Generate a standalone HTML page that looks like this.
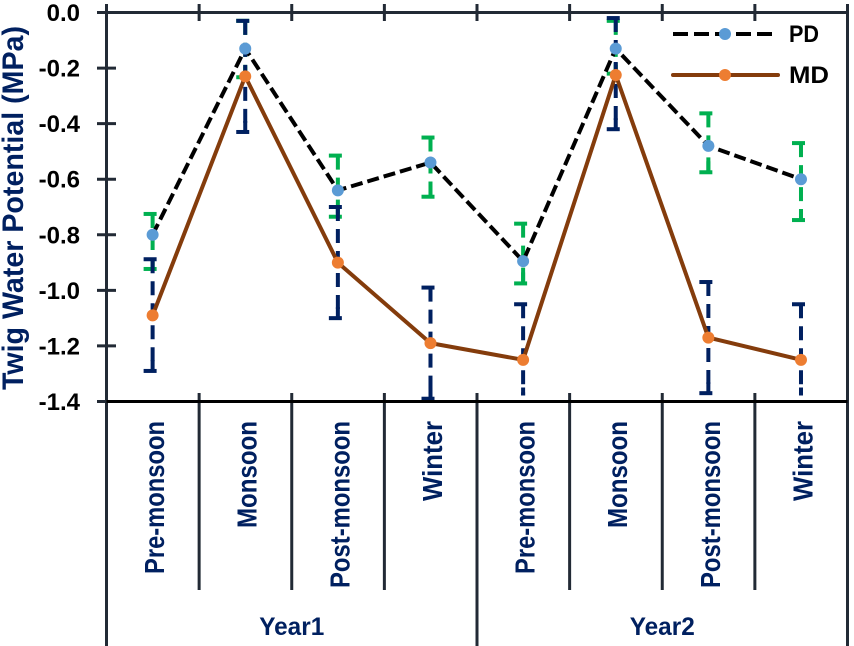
<!DOCTYPE html>
<html>
<head>
<meta charset="utf-8">
<title>Twig Water Potential</title>
<style>
html,body{margin:0;padding:0;background:#fff;}
svg{display:block;font-family:"Liberation Sans",sans-serif;}
</style>
</head>
<body>
<svg id="chart" width="854" height="646" viewBox="0 0 854 646" xmlns="http://www.w3.org/2000/svg">
  <g id="errors"></g>
  <g id="axes"></g>
  <g id="series"></g>
  <text transform="translate(23,390) rotate(-90)" font-size="30" font-weight="bold" fill="#002060" textLength="364" lengthAdjust="spacingAndGlyphs">Twig Water Potential (MPa)</text>
  <g>
    <line x1="673" y1="34" x2="773" y2="34" stroke="#000" stroke-width="4" stroke-dasharray="15 6"/>
    <circle cx="725" cy="34" r="6" fill="#5B9BD5"/>
    <text x="789" y="42" font-size="24" font-weight="bold" fill="#000" textLength="30" lengthAdjust="spacingAndGlyphs">PD</text>
    <line x1="673" y1="75" x2="778" y2="75" stroke="#843C0C" stroke-width="4" stroke-linecap="round"/>
    <circle cx="725" cy="75" r="6" fill="#ED7D31"/>
    <text x="789" y="83" font-size="24" font-weight="bold" fill="#000" textLength="40" lengthAdjust="spacingAndGlyphs">MD</text>
  </g>
</svg>
<script>
var seasons = ["Pre-monsoon","Monsoon","Post-monsoon","Winter","Pre-monsoon","Monsoon","Post-monsoon","Winter"];
var years = ["Year1","Year2"];
var yTicks = [0,-0.2,-0.4,-0.6,-0.8,-1.0,-1.2,-1.4];
var pdValues = [-0.80,-0.13,-0.64,-0.54,-0.895,-0.13,-0.48,-0.60];
var mdValues = [-1.09,-0.23,-0.90,-1.19,-1.25,-0.225,-1.17,-1.25];
var pdErrTop = [-0.725,-0.03,-0.515,-0.45,-0.76,-0.03,-0.363,-0.47];
var pdErrBottom = [-0.923,-0.233,-0.735,-0.663,-0.975,-0.22,-0.575,-0.747];
var mdErrTop = [-0.888,-0.03,-0.70,-0.99,-1.05,-0.02,-0.97,-1.05];
var mdErrBottom = [-1.29,-0.43,-1.10,-1.39,-1.45,-0.42,-1.37,-1.45];

var NS = "http://www.w3.org/2000/svg";
var LEFT = 106.5, RIGHT = 847.5, TOP = 12.5, BOTTOM = 401.5;
var AXIS = "#222A35", NAVY = "#002060", GREEN = "#00B050";
function xBand(i){ return LEFT + (RIGHT - LEFT) * i / seasons.length; }
function xPos(i){ return xBand(i + 0.5) - 0.2; }
function yPos(v){ return TOP + (BOTTOM - TOP) * (0 - v) / 1.4; }
function make(parent, tag, attrs){
  var el = document.createElementNS(NS, tag);
  for (var k in attrs) el.setAttribute(k, attrs[k]);
  parent.appendChild(el);
  return el;
}
var axes = document.getElementById("axes");
var errors = document.getElementById("errors");
var series = document.getElementById("series");
var el;

function drawErrors(tops, bottoms, color, label){
  tops.forEach(function(t, i){
    var x = xPos(i), y1 = yPos(t), y2 = yPos(bottoms[i]);
    var offScale = bottoms[i] < -1.4;
    var stemEnd = offScale ? BOTTOM - 6 : y2;
    el = make(errors, "line", {x1:x, y1:y1, x2:x, y2:stemEnd, stroke:color, "stroke-width":4, "stroke-dasharray":"14 8"});
    
    
    el = make(errors, "line", {x1:x-9, y1:y1, x2:x+4, y2:y1, stroke:color, "stroke-width":4});
    
    
    el = make(errors, "line", {x1:x, y1:stemEnd-(offScale ? 8 : 11), x2:x, y2:stemEnd, stroke:color, "stroke-width":4});
    
    
    if (!offScale) {
      el = make(errors, "line", {x1:x-9, y1:y2, x2:x+4, y2:y2, stroke:color, "stroke-width":4});
      
      
    }
  });
}
drawErrors(pdErrTop, pdErrBottom, GREEN, 'pd');
drawErrors(mdErrTop, mdErrBottom, NAVY, 'md');

// frame
el = make(axes, "line", {x1:97, y1:TOP, x2:RIGHT, y2:TOP, stroke:AXIS, "stroke-width":3});


el = make(axes, "line", {x1:LEFT, y1:4, x2:LEFT, y2:646, stroke:AXIS, "stroke-width":3});


el = make(axes, "line", {x1:RIGHT, y1:4, x2:RIGHT, y2:646, stroke:AXIS, "stroke-width":3});



// y ticks and labels
yTicks.forEach(function(v){
  var y = yPos(v);
  el = make(axes, "line", {x1:97, y1:y, x2:116, y2:y, stroke:AXIS, "stroke-width":3});
  
  
  el = make(axes, "text", {x:80, y:y+8.5, "text-anchor":"end", "font-size":24, "font-weight":"bold", fill:"#000"});
  el.textContent = v === 0 ? "0.0" : v.toFixed(1);
  
  
});

// x separators, ticks and labels
seasons.forEach(function(s, i){
  if (i > 0) {
    var isYear = i === seasons.length / years.length;
    var bx = xBand(i);
    el = make(axes, "line", {x1:bx, y1:393, x2:bx, y2:isYear ? 646 : 590, stroke:AXIS, "stroke-width":3});
    
    
    el = make(axes, "line", {x1:bx, y1:4, x2:bx, y2:21, stroke:AXIS, "stroke-width":3});
    
    
  }
  var len = s === "Pre-monsoon" ? 153 : s === "Monsoon" ? 107 : s === "Post-monsoon" ? 167 : 80;
  el = make(axes, "text", {transform:"translate(" + (xPos(i) + 11.5) + ",421) rotate(-90)", "text-anchor":"end", "font-size":28, "font-weight":"bold", fill:NAVY, textLength:len, lengthAdjust:"spacingAndGlyphs"});
  el.textContent = s;
  
  
});
el = make(axes, "line", {x1:LEFT, y1:BOTTOM, x2:RIGHT, y2:BOTTOM, stroke:"#000", "stroke-width":3});



years.forEach(function(yr, i){
  var cx = xBand(seasons.length / years.length * (i + 0.5));
  el = make(axes, "text", {x:cx, y:635, "text-anchor":"middle", "font-size":25, "font-weight":"bold", fill:NAVY, textLength:65, lengthAdjust:"spacingAndGlyphs"});
  el.textContent = yr;
  
  
});

function drawSeries(vals, stroke, dash, fill, label){
  var pts = vals.map(function(v, i){ return xPos(i) + "," + yPos(v); }).join(" ");
  var attrs = {points:pts, fill:"none", stroke:stroke, "stroke-width":4, "stroke-linejoin":"round"};
  if (dash) attrs["stroke-dasharray"] = dash;
  el = make(series, "polyline", attrs);
  
  
  vals.forEach(function(v, i){
    el = make(series, "circle", {cx:xPos(i), cy:yPos(v), r:6, fill:fill});
    
    
  });
}
drawSeries(pdValues, "#000", "12 5", "#5B9BD5", 'pd');
drawSeries(mdValues, "#843C0C", null, "#ED7D31", 'md');
</script>
</body>
</html>
